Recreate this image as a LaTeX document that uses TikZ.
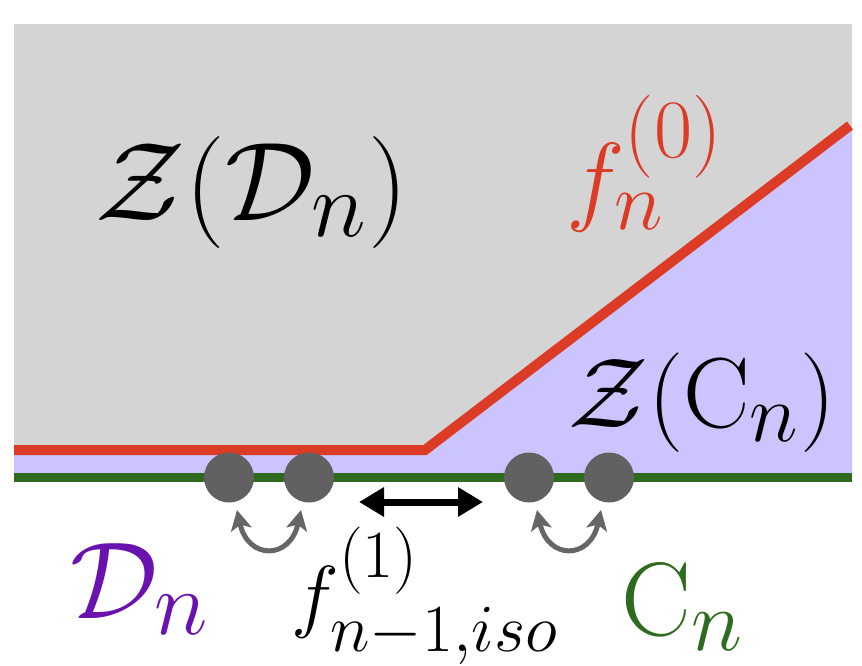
\documentclass[tikz,border=0pt]{standalone}
\usepackage{amsmath}
\usetikzlibrary{arrows.meta}
\definecolor{bggray}{HTML}{D4D4D4}
\definecolor{lilac}{HTML}{CCC4FF}
\definecolor{redline}{HTML}{DC3B26}
\definecolor{greenline}{HTML}{2E6B1E}
\definecolor{dotgray}{HTML}{616161}
\definecolor{arrgray}{HTML}{666666}
\definecolor{purpletext}{HTML}{6A12B0}
\tikzset{
  dotnode/.style={circle,fill=dotgray,minimum size=50pt,inner sep=0pt},
  swaparrow/.style={draw=arrgray,line width=5pt,{Stealth[length=20pt,width=21pt,inset=5pt]}-{Stealth[length=20pt,width=21pt,inset=5pt]}},
  bigtext/.style={inner sep=0pt,anchor=base,font=\Huge}
}
\begin{document}
\begin{tikzpicture}[x=1pt,y=-1pt]
\useasboundingbox (0,0) rectangle (862,666);
% regions
\fill[bggray] (14,24.5) rectangle (852,478);
\fill[lilac] (14,450) -- (425,450) -- (852,124) -- (852,478) -- (14,478) -- cycle;
% boundary lines
\draw[redline,line width=10pt,line join=miter] (14,450) -- (425,450) -- (850,125.5);
\draw[greenline,line width=9pt] (14,477.5) -- (852,477.5);
% dots
\node[dotnode] (d1) at (229,477.5) {};
\node[dotnode] (d2) at (309,477.5) {};
\node[dotnode] (d3) at (529,477.5) {};
\node[dotnode] (d4) at (609,477.5) {};
% swap arrows
\coordinate (a1) at (237,510);
\coordinate (a2) at (301,510);
\coordinate (a3) at (537,510);
\coordinate (a4) at (601,510);
\draw[swaparrow] (a1) .. controls (248,560) and (290,560) .. (a2);
\draw[swaparrow] (a3) .. controls (548,560) and (590,560) .. (a4);
% double arrow
\coordinate (b1) at (359,502);
\coordinate (b2) at (483,502);
\draw[line width=7pt,{Triangle[length=25pt,width=28pt]}-{Triangle[length=25pt,width=28pt]}] (b1) -- (b2);
% labels
\node[bigtext,scale=4.5] (zd) at (252,220) {$\mathcal{Z}(\mathcal{D}_n)$};
\node[bigtext,scale=4.0,text=redline] (f0) at (645,212) {$f_n^{(0)}$};
\node[bigtext,scale=4.0] (zc) at (702,427) {$\mathcal{Z}(\mathrm{C}_n)$};
\node[bigtext,scale=4.4,text=purpletext] (dn) at (140,618) {$\mathcal{D}_n$};
\node[bigtext,scale=3.25] (f1) at (425,622) {$f_{n-1,iso}^{(1)}$};
\node[bigtext,scale=4.2,text=greenline] (cn) at (683,635) {$\mathrm{C}_n$};
\end{tikzpicture}
\end{document}
